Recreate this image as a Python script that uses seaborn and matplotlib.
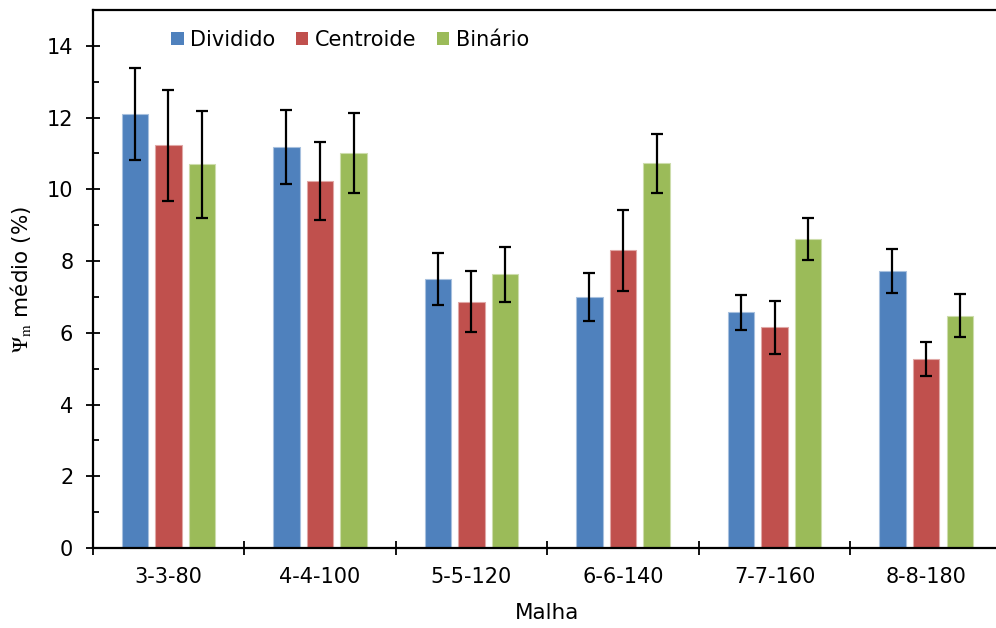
import matplotlib
matplotlib.use("Agg")
import matplotlib.pyplot as plt
from matplotlib.ticker import MultipleLocator
import numpy as np
import pandas as pd
import seaborn as sns

# Mesh configurations and methods
malhas = ["3-3-80", "4-4-100", "5-5-120", "6-6-140", "7-7-160", "8-8-180"]
metodos = ["Dividido", "Centroide", "Binário"]

# Mean Psi_m (%) per method
dividido = [12.10, 11.19, 7.50, 6.99, 6.57, 7.72]
centroide = [11.23, 10.23, 6.87, 8.30, 6.15, 5.26]
binario = [10.70, 11.01, 7.63, 10.73, 8.61, 6.47]

# Error bar half-widths
err_dividido = [1.28, 1.03, 0.72, 0.67, 0.49, 0.62]
err_centroide = [1.55, 1.09, 0.86, 1.13, 0.73, 0.47]
err_binario = [1.49, 1.11, 0.76, 0.82, 0.58, 0.60]

cores = ["#4F81BD", "#C0504D", "#9BBB59"]
bordas = ["#A7C0DE", "#E0A8A6", "#CDDDAC"]

sns.set_theme(style="white")
plt.rcParams["font.family"] = ["DejaVu Sans"]
plt.rcParams["mathtext.fontset"] = "stix"
plt.rcParams["text.color"] = "black"
plt.rcParams["axes.labelcolor"] = "black"
plt.rcParams["xtick.color"] = "black"
plt.rcParams["ytick.color"] = "black"

valores = {"Dividido": dividido, "Centroide": centroide, "Binário": binario}
erros = {"Dividido": err_dividido, "Centroide": err_centroide, "Binário": err_binario}
df = pd.DataFrame(
    [(m, met, valores[met][i], erros[met][i])
     for met in metodos for i, m in enumerate(malhas)],
    columns=["Malha", "Metodo", "Psi", "Erro"],
)

fig = plt.figure(figsize=(9.96, 6.28), dpi=100)
ax = fig.add_axes([0.0931, 0.1274, 0.9127, 0.8567])

sns.barplot(data=df, x="Malha", y="Psi", hue="Metodo", order=malhas,
            hue_order=metodos, palette=cores, width=0.665, gap=0.22,
            errorbar=None, ax=ax, saturation=1, linewidth=0.8)

# Edge tint and error bars at each bar's center
barras = list(ax.containers)
for k, cont in enumerate(barras):
    met = metodos[k]
    xs, ys = [], []
    for bar in cont:
        bar.set_edgecolor(bordas[k])
        xs.append(bar.get_x() + bar.get_width() / 2)
        ys.append(bar.get_height())
    ax.errorbar(xs, ys, yerr=erros[met], fmt="none", ecolor="black",
                elinewidth=1.6, capsize=4.2, capthick=1.6, zorder=5)

ax.set_xlim(-0.5, 5.5)
ax.set_ylim(0, 15)
ax.set_yticks(np.arange(0, 15, 2))
ax.yaxis.set_minor_locator(MultipleLocator(1))
ax.set_xticks(np.arange(-0.5, 5.6, 1), minor=False)
ax.set_xticks(np.arange(0, 6, 1), minor=True)
ax.set_xticklabels([""] * 7)
ax.set_xticklabels(malhas, minor=True)

ax.tick_params(axis="y", which="major", direction="inout", length=10,
               width=1.3, labelsize=15, pad=9, left=True)
ax.tick_params(axis="y", which="minor", direction="in", length=4,
               width=1.3, left=True)
ax.tick_params(axis="x", which="major", direction="inout", length=10,
               width=1.3, bottom=True)
ax.tick_params(axis="x", which="minor", length=0, labelsize=15, pad=14)

for s in ax.spines.values():
    s.set_linewidth(1.6)
    s.set_color("black")

ax.set_xlabel("Malha", fontsize=15.5, labelpad=11)
ax.set_ylabel(r"$\Psi_{\mathrm{m}}$ médio (%)", fontsize=15.5, labelpad=10)

leg = ax.legend(loc="upper left", bbox_to_anchor=(0.077, 0.978), ncol=3,
                frameon=False, fontsize=15, handlelength=0.6,
                handleheight=0.6, handletextpad=0.3, columnspacing=1.0,
                borderaxespad=0)
for h in leg.legend_handles:
    h.set_edgecolor("none")

fig.savefig("out.png", dpi=100)
